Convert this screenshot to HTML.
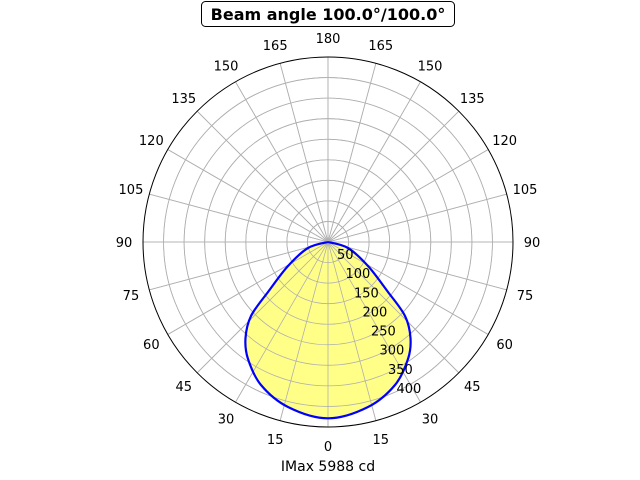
<!DOCTYPE html>
<html><head><meta charset="utf-8"><style>
html,body{margin:0;padding:0;background:#fff;}
svg{display:block;font-family:"DejaVu Sans","Liberation Sans",sans-serif;}
</style></head><body>
<svg id="s" width="640" height="480" viewBox="0 0 640 480" xmlns="http://www.w3.org/2000/svg">
<rect x="201.5" y="1.5" width="253" height="25" rx="4" fill="#fff" stroke="#000" stroke-width="1"/>
<text x="328" y="20" text-anchor="middle" font-size="16" font-weight="bold">Beam angle 100.0°/100.0°</text>
<text x="328" y="471" text-anchor="middle" font-size="14">IMax 5988 cd</text>
<g id="g"></g>
</svg>
<script>
var cx=328,cy=242,R=185,g=document.getElementById('g'),h='';
function grid(){var s='';for(var i=1;i<=8;i++){s+='<circle cx="'+cx+'" cy="'+cy+'" r="'+(R*i/9)+'" fill="none" stroke="#b0b0b0" stroke-width="0.8"/>';}
for(var a=0;a<360;a+=15){var t=a*Math.PI/180;s+='<line x1="'+cx+'" y1="'+cy+'" x2="'+(cx+R*Math.sin(t))+'" y2="'+(cy+R*Math.cos(t))+'" stroke="#b0b0b0" stroke-width="0.8"/>';}return s;}
var L=[[328,418.3],[288,407],[261,385],[248,359],[245.5,338],[251,316],[268,292],[288,266],[308,248],[328,242]];
var P=[];for(var k=L.length-1;k>=0;k--)P.push([2*cx-L[k][0],L[k][1]]);for(var k=1;k<L.length;k++)P.push(L[k]);
var d='M'+P[0][0].toFixed(1)+','+P[0][1].toFixed(1);
for(var i=0;i<P.length-1;i++){var p0=P[Math.max(0,i-1)],p1=P[i],p2=P[i+1],p3=P[Math.min(P.length-1,i+2)];
var c1=[p1[0]+(p2[0]-p0[0])/6,p1[1]+(p2[1]-p0[1])/6],c2=[p2[0]-(p3[0]-p1[0])/6,p2[1]-(p3[1]-p1[1])/6];
d+=' C'+c1[0].toFixed(1)+','+c1[1].toFixed(1)+' '+c2[0].toFixed(1)+','+c2[1].toFixed(1)+' '+p2[0].toFixed(1)+','+p2[1].toFixed(1);}
h+=grid();
h+='<path d="'+d+'Z" fill="#ffff88" stroke="none"/>';
h+=grid();
h+='<path d="'+d+'" fill="none" stroke="#0000ff" stroke-width="2.2" stroke-linejoin="round"/>';
h+='<circle cx="'+cx+'" cy="'+cy+'" r="'+R+'" fill="none" stroke="#000" stroke-width="1"/>';
for(var a=0;a<360;a+=15){var t=a*Math.PI/180,lr=204;var v=a<=180?a:360-a;h+='<text x="'+(cx+lr*Math.sin(t))+'" y="'+(cy+lr*Math.cos(t)+5)+'" text-anchor="middle" font-size="13">'+v+'</text>';}
for(var i=1;i<=8;i++){var f=(i-1)/7;h+='<text x="'+(337+8.5*(i-1))+'" y="'+(254+134*f+5)+'" text-anchor="start" font-size="13">'+(i*50)+'</text>';}
g.innerHTML=h;
</script>
</body></html>
